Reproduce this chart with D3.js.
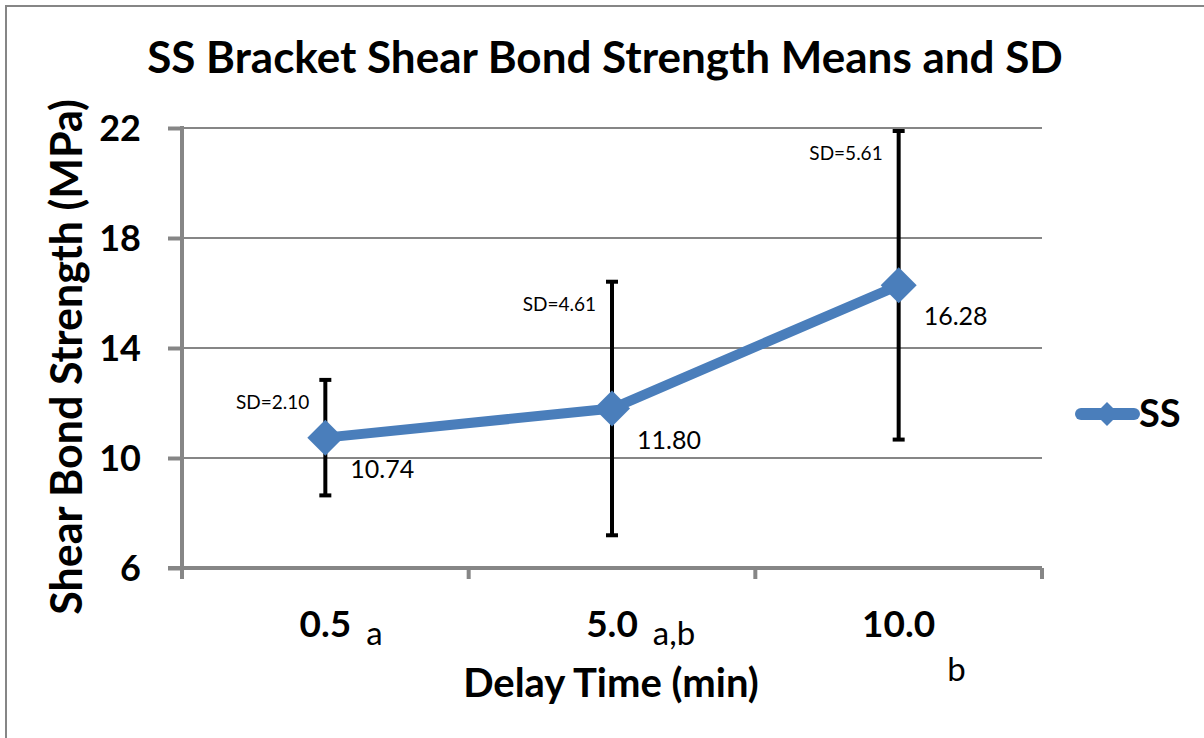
<!DOCTYPE html>
<html><head><meta charset="utf-8">
<script src="https://cdn.jsdelivr.net/npm/d3@7"></script>
<style>body{margin:0;background:#fff;} text{font-family:Lato,"Open Sans",sans-serif;}</style>
</head><body>
<svg id="c" width="1204" height="738"></svg>
<script>
const categories = ["0.5", "5.0", "10.0"];
const sigLetters = ["a", "a,b", "b"];
const means = [10.74, 11.80, 16.28];
const sds = [2.10, 4.61, 5.61];
const yTicks = [6, 10, 14, 18, 22];
const seriesName = "SS";

(function(){
const svg = d3.select("#c");
const W = 1204, H = 738;
const pL = 182, pR = 1042, pT = 128, pB = 568;
const gray = "#868686", blue = "#4a7ebb";

svg.append("rect").attr("x",6).attr("y",6).attr("width",W+10).attr("height",H+10)
  .attr("fill","#fff").attr("stroke",gray).attr("stroke-width",2);

const x = d3.scaleBand().domain(categories).range([pL,pR]);
const y = d3.scaleLinear().domain([6,22]).range([pB,pT]);

svg.append("text").attr("x",605).attr("y",73).attr("text-anchor","middle")
  .attr("font-size",44).attr("font-weight","bold").text("SS Bracket Shear Bond Strength Means and SD");

// gridlines
svg.append("g").selectAll("line").data(yTicks.filter(d=>d!==6)).join("line")
  .attr("x1",pL).attr("x2",pR).attr("y1",d=>y(d)).attr("y2",d=>y(d))
  .attr("stroke",gray).attr("stroke-width",2);

// y axis
const yAxis = svg.append("g").attr("transform",`translate(${pL},0)`)
  .call(d3.axisLeft(y).tickValues(yTicks).tickSize(14).tickPadding(27).tickFormat(d3.format("d")));
yAxis.select(".domain").attr("stroke",gray).attr("stroke-width",4).attr("d",`M0,${pT-2}V${pB+10}`);
yAxis.selectAll(".tick line").attr("stroke",gray).attr("stroke-width",4);
yAxis.selectAll(".tick text").attr("font-size",36).attr("font-weight","bold").attr("fill","#000").attr("dy","0.36em");

// x axis
const xAxis = svg.append("g").attr("transform",`translate(0,${pB})`)
  .call(d3.axisBottom(x).tickSize(0).tickFormat(""));
xAxis.select(".domain").attr("stroke",gray).attr("stroke-width",4).attr("d",`M${pL-14},0H${pR}`);
const bounds = [pL, ...categories.map(c=>x(c)+x.bandwidth())];
xAxis.selectAll(".bt").data(bounds).join("line").attr("class","bt")
  .attr("x1",d=>d).attr("x2",d=>d).attr("y1",0).attr("y2",11)
  .attr("stroke",gray).attr("stroke-width",4);

// x labels
categories.forEach((c,i)=>{
  const cx = x(c)+x.bandwidth()/2;
  const t = svg.append("text").attr("x",cx).attr("y",637).attr("text-anchor","middle")
    .attr("font-size",37).attr("font-weight","bold").text(c);
  const w = t.node().getComputedTextLength();
  if(i<2){
    svg.append("text").attr("x",cx+w/2+15).attr("y",645).attr("font-size",33).text(sigLetters[i]);
  } else {
    svg.append("text").attr("x",cx+w/2+12).attr("y",681).attr("font-size",33).text(sigLetters[i]);
  }
});

svg.append("text").attr("x",611).attr("y",697).attr("text-anchor","middle")
  .attr("font-size",40).attr("font-weight","bold").text("Delay Time (min)");
svg.append("text").attr("transform","translate(82,357) rotate(-90)").attr("text-anchor","middle")
  .attr("font-size",43).attr("font-weight","bold").text("Shear Bond Strength (MPa)");

const cxf = (i)=>x(categories[i])+x.bandwidth()/2;

// error bars
const eb = svg.append("g");
means.forEach((m,i)=>{
  const cx = cxf(i);
  eb.append("line").attr("x1",cx).attr("x2",cx).attr("y1",y(m-sds[i])).attr("y2",y(m+sds[i]))
    .attr("stroke","#000").attr("stroke-width",4);
  [m-sds[i], m+sds[i]].forEach(v=>eb.append("line").attr("x1",cx-6).attr("x2",cx+6)
    .attr("y1",y(v)).attr("y2",y(v)).attr("stroke","#000").attr("stroke-width",4));
});

// line
svg.append("path").datum(means).attr("fill","none").attr("stroke",blue).attr("stroke-width",10)
  .attr("d",d3.line().x((d,i)=>cxf(i)).y(d=>y(d)));
const diamond = "M0,-18L18,0L0,18L-18,0Z";
svg.append("g").selectAll("path").data(means).join("path")
  .attr("transform",(d,i)=>`translate(${cxf(i)},${y(d)})`).attr("d",diamond).attr("fill",blue);

// labels
means.forEach((m,i)=>{
  svg.append("text").attr("x",cxf(i)+25).attr("y",y(m)+40).attr("font-size",25).text(m.toFixed(2));
  svg.append("text").attr("x",cxf(i)-16).attr("y",y(m+sds[i])+29).attr("text-anchor","end")
    .attr("font-size",19).text("SD="+sds[i].toFixed(2));
});

// legend
svg.append("line").attr("x1",1081).attr("x2",1134).attr("y1",414).attr("y2",414)
  .attr("stroke",blue).attr("stroke-width",12).attr("stroke-linecap","round");
svg.append("path").attr("transform","translate(1107,414)").attr("d","M0,-12L12,0L0,12L-12,0Z").attr("fill",blue);
svg.append("text").attr("x",1139).attr("y",427).attr("font-size",38).attr("font-weight","bold").text(seriesName);
})();
</script>
</body></html>
